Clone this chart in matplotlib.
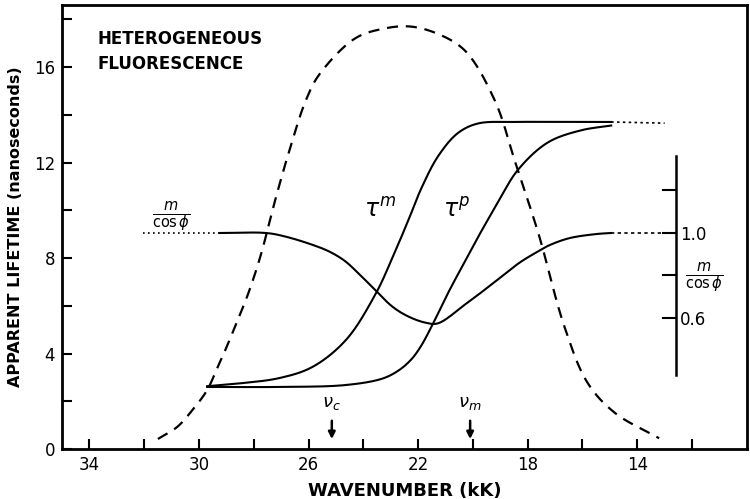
import matplotlib.pyplot as plt
import numpy as np

# emission spectrum (dashed), wavenumber in kK vs. arbitrary height on lifetime scale
spec_k = [31.5, 30.8, 30.24, 29.7, 29.35, 29.0, 28.64, 28.27, 27.98, 27.7, 27.2, 26.7,
          26.1, 25.6, 24.3, 23.3, 22.3, 21.3, 20.3, 19.2, 18.45, 17.6, 16.65, 15.8, 14.8, 13.2]
spec_v = [0.42, 0.92, 1.63, 2.47, 3.35, 4.25, 5.25, 6.3, 7.25, 8.3, 10.5, 12.5,
          14.6, 15.7, 17.2, 17.6, 17.7, 17.4, 16.7, 14.6, 12.0, 9.0, 5.1, 2.75, 1.5, 0.45]

# modulation lifetime tau^m
taum_k = [29.7, 28.5, 27.07, 25.87, 24.64, 23.55, 22.96, 22.35, 21.87, 21.25, 20.53, 19.8, 18.5, 17.0, 14.95]
taum_v = [2.63, 2.75, 2.97, 3.43, 4.56, 6.5, 7.95, 9.6, 10.95, 12.3, 13.25, 13.64, 13.7, 13.7, 13.7]
taum_tail_k = [14.95, 13.0]
taum_tail_v = [13.7, 13.65]

# phase lifetime tau^p
taup_k = [29.7, 27.07, 24.64, 23.3, 22.7, 22.25, 21.9, 21.5, 20.9, 20.27, 19.8, 19.1, 18.35, 17.25, 16.05, 14.95]
taup_v = [2.6, 2.6, 2.68, 2.95, 3.3, 3.75, 4.3, 5.15, 6.55, 7.9, 8.9, 10.3, 11.7, 12.85, 13.35, 13.55]

# m / cos(phi) ratio (right scale)
ratio_k = [29.25, 27.55, 26.9, 25.87, 25.2, 24.64, 24.1, 23.55, 23.0, 22.45, 21.73, 21.25,
           20.27, 19.8, 19.1, 18.3, 17.6, 17.25, 16.5, 15.5, 14.95]
ratio_v = [1.0, 1.0, 0.985, 0.945, 0.91, 0.865, 0.8, 0.73, 0.66, 0.613, 0.578, 0.576,
           0.665, 0.71, 0.78, 0.86, 0.915, 0.94, 0.975, 0.995, 1.0]
ratio_head_k = [32.05, 29.25]
ratio_tail_k = [14.95, 12.6]

x_major = [34, 30, 26, 22, 18, 14]
x_minor = [32, 28, 24, 20, 16, 12]
y_major = [0, 4, 8, 12, 16]
y_minor = [2, 6, 10, 14, 18]
r_ticks = [1.2, 1.0, 0.8, 0.6]
r_labels = ['', '1.0', '', '0.6']


def catmull(xs, ys, n=20):
    # centripetal Catmull-Rom through the read-off points, for drawing only
    p = np.column_stack([xs, ys]).astype(float)
    p = np.vstack([2 * p[0] - p[1], p, 2 * p[-1] - p[-2]])
    out = []
    for i in range(1, len(p) - 2):
        p0, p1, p2, p3 = p[i - 1], p[i], p[i + 1], p[i + 2]
        t0 = 0.0
        t1 = t0 + np.linalg.norm(p1 - p0) ** 0.5
        t2 = t1 + np.linalg.norm(p2 - p1) ** 0.5
        t3 = t2 + np.linalg.norm(p3 - p2) ** 0.5
        t = np.linspace(t1, t2, n)[:, None]
        a1 = (t1 - t) / (t1 - t0) * p0 + (t - t0) / (t1 - t0) * p1
        a2 = (t2 - t) / (t2 - t1) * p1 + (t - t1) / (t2 - t1) * p2
        a3 = (t3 - t) / (t3 - t2) * p2 + (t - t2) / (t3 - t2) * p3
        b1 = (t2 - t) / (t2 - t0) * a1 + (t - t0) / (t2 - t0) * a2
        b2 = (t3 - t) / (t3 - t1) * a2 + (t - t1) / (t3 - t1) * a3
        c = (t2 - t) / (t2 - t1) * b1 + (t - t1) / (t2 - t1) * b2
        out.append(c if i == 1 else c[1:])
    c = np.vstack(out)
    return c[:, 0], c[:, 1]


plt.rcParams['font.family'] = ['DejaVu Sans']
fig = plt.figure(figsize=(7.5, 4.99), dpi=100)
ax = fig.add_axes([0.0827, 0.1002, 0.913, 0.8898])

lw = 1.5
ax.plot(*catmull(spec_k, spec_v), color='black', lw=1.6, ls=(0, (5, 3.5)))
ax.plot(*catmull(taum_k, taum_v), color='black', lw=lw)
ax.plot(taum_tail_k, taum_tail_v, color='black', lw=1.2, ls=(0, (1.5, 2)))
ax.plot(*catmull(taup_k, taup_v), color='black', lw=lw)

ax.set_xlim(35, 10)
ax.set_ylim(0, 18.6)
ax.set_xticks(x_major)
ax.set_xticks(x_minor, minor=True)
ax.set_yticks(y_major)
ax.set_yticks(y_minor, minor=True)
ax.tick_params(which='both', direction='in', length=7, width=1.5, labelsize=12, pad=5)
for s in ax.spines.values():
    s.set_linewidth(2)
ax.tick_params(top=False, right=False, which='both')

ax.set_xlabel('WAVENUMBER (kK)', fontsize=13, fontweight='bold', labelpad=6)
ax.set_ylabel('APPARENT LIFETIME (nanoseconds)', fontsize=11.5, fontweight='bold', labelpad=8)

ax.text(33.7, 17.55, 'HETEROGENEOUS\nFLUORESCENCE', fontsize=12, fontweight='bold',
        va='top', ha='left', linespacing=1.5)
ax.text(23.4, 10.0, r'$\tau^{m}$', fontsize=17, ha='center', va='center')
ax.text(20.6, 10.0, r'$\tau^{p}$', fontsize=17, ha='center', va='center')
ax.text(31.0, 9.75, r'$\frac{m}{\cos\phi}$', fontsize=15, ha='center', va='center')

# wavenumber markers
for k, lab in [(25.15, r'$\nu_c$'), (20.1, r'$\nu_m$')]:
    ax.annotate('', xy=(k, 0.3), xytext=(k, 1.3),
                arrowprops=dict(arrowstyle='-|>', color='black', lw=1.8, mutation_scale=10))
    ax.text(k, 1.55, lab, fontsize=13, ha='center', va='bottom')

# inner ratio scale
rx = ax.twinx()
rx.set_ylim(-0.0165, 2.073)
rx.plot(*catmull(ratio_k, ratio_v), color='black', lw=lw)
rx.plot(ratio_head_k, [1.0, 1.0], color='black', lw=1.2, ls=(0, (1, 2)))
rx.plot(ratio_tail_k, [1.0, 1.0], color='black', lw=1.2, ls=(0, (2, 2)))
for name in ['left', 'top', 'bottom']:
    rx.spines[name].set_visible(False)
rx.spines['right'].set_position(('data', 12.6))
rx.spines['right'].set_bounds(0.33, 1.36)
rx.spines['right'].set_linewidth(1.8)
rx.set_yticks(r_ticks)
rx.set_yticklabels(r_labels)
rx.tick_params(axis='y', direction='out', left=False, right=True, length=0, labelsize=12, pad=3)
for t in r_ticks:
    rx.plot([12.6, 13.05], [t, t], color='black', lw=1.5, clip_on=False)
rx.text(11.55, 0.79, r'$\frac{m}{\cos\phi}$', fontsize=15, ha='center', va='center')

fig.savefig('out.png', dpi=100)
